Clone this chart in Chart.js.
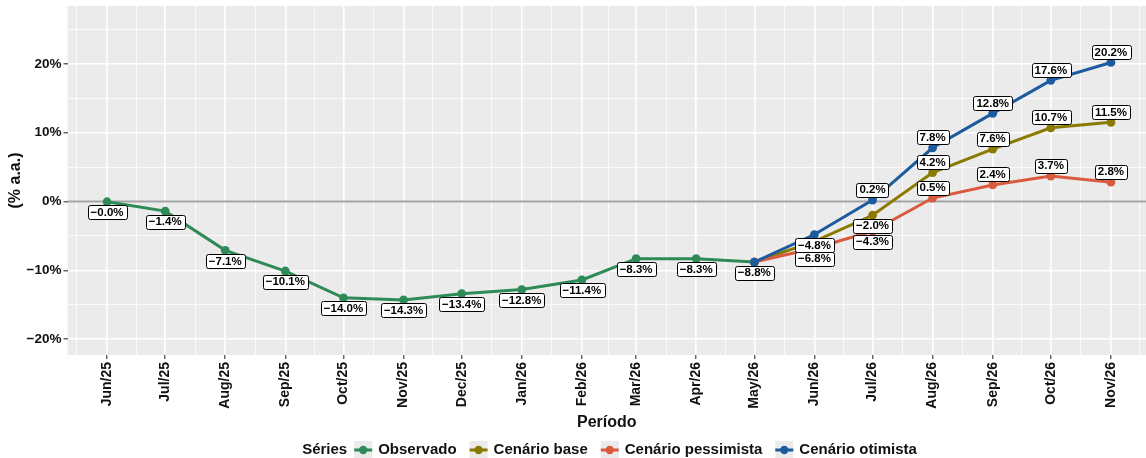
<!DOCTYPE html>
<html>
<head>
<meta charset="utf-8">
<script src="https://cdn.jsdelivr.net/npm/chart.js@4.4.1/dist/chart.umd.min.js"></script>
<style>
  html, body { margin: 0; padding: 0; background: #fff; }
  #wrap { width: 1146px; height: 458px; overflow: hidden; }
</style>
</head>
<body>
<div id="wrap"><canvas id="myChart" width="1146" height="458"></canvas></div>
<script>
// months (first day) and their tick labels
var months = ['2025-06-01', '2025-07-01', '2025-08-01', '2025-09-01', '2025-10-01', '2025-11-01',
              '2025-12-01', '2026-01-01', '2026-02-01', '2026-03-01', '2026-04-01', '2026-05-01',
              '2026-06-01', '2026-07-01', '2026-08-01', '2026-09-01', '2026-10-01', '2026-11-01'];
var tickLabels = ['Jun/25', 'Jul/25', 'Aug/25', 'Sep/25', 'Oct/25', 'Nov/25', 'Dec/25', 'Jan/26', 'Feb/26',
                  'Mar/26', 'Apr/26', 'May/26', 'Jun/26', 'Jul/26', 'Aug/26', 'Sep/26', 'Oct/26', 'Nov/26'];

// series (% a.a.)
var observado         = [-0.04, -1.4, -7.1, -10.1, -14.0, -14.3, -13.4, -12.8, -11.4, -8.3, -8.3, -8.8,
                         null, null, null, null, null, null];
var cenarioBase       = [null, null, null, null, null, null, null, null, null, null, null,
                         -8.8, -5.8, -2.0, 4.2, 7.6, 10.7, 11.5];
var cenarioPessimista = [null, null, null, null, null, null, null, null, null, null, null,
                         -8.8, -6.8, -4.3, 0.5, 2.4, 3.7, 2.8];
var cenarioOtimista   = [null, null, null, null, null, null, null, null, null, null, null,
                         -8.8, -4.8, 0.2, 7.8, 12.8, 17.6, 20.2];

// y ticks
var yTicks = [-20, -15, -10, -5, 0, 5, 10, 15, 20, 25];

// where each value label sits: 'a' above, 'b' below, null none
var B = 'b', A = 'a', N = null;
var posObservado  = [B, B, B, B, B, B, B, B, B, B, B, B, N, N, N, N, N, N];
var posBase       = [N, N, N, N, N, N, N, N, N, N, N, N, N, B, A, A, A, A];
var posPessimista = [N, N, N, N, N, N, N, N, N, N, N, N, B, B, A, A, A, A];
var posOtimista   = [N, N, N, N, N, N, N, N, N, N, N, N, B, A, A, A, A, A];

var FONT = '"Liberation Sans", Arial, sans-serif';

function dayOf(s) {
  var p = s.split('-');
  return (Date.UTC(+p[0], +p[1] - 1, +p[2]) - Date.UTC(2025, 5, 1)) / 86400000;
}
var xDays = months.map(dayOf);
// minor ticks halfway between months (one month before and after included)
var edges = [dayOf('2025-05-01')].concat(xDays, [dayOf('2026-12-01')]);
var xMinor = [];
for (var i = 0; i < edges.length - 1; i++) xMinor.push((edges[i] + edges[i + 1]) / 2);
var xTicks = xMinor.concat(xDays).sort(function (a, b) { return a - b; });

function pts(arr) {
  return arr.map(function (v, i) { return { x: xDays[i], y: v }; });
}
function fmt(v) {
  return (v < 0 ? '\u2212' : '') + Math.abs(v).toFixed(1) + '%';
}

function ds(label, data, color, pos, order) {
  return {
    label: label, data: pts(data), labelPos: pos, order: order,
    borderColor: color, backgroundColor: color, borderWidth: 3,
    pointRadius: 4.4, pointHoverRadius: 4.4, pointBorderWidth: 0,
    pointBackgroundColor: color, tension: 0, spanGaps: false
  };
}

var panelBg = {
  id: 'panelBg',
  beforeDraw: function (chart) {
    var a = chart.chartArea, c = chart.ctx;
    c.save();
    c.fillStyle = '#EBEBEB';
    c.fillRect(a.left, a.top, a.right - a.left, a.bottom - a.top);
    c.restore();
  },
  beforeDatasetsDraw: function (chart) {
    var a = chart.chartArea, c = chart.ctx, y0 = chart.scales.y.getPixelForValue(0);
    c.save();
    c.strokeStyle = '#A3A3A3';
    c.lineWidth = 1.8;
    c.beginPath(); c.moveTo(a.left, y0); c.lineTo(a.right, y0); c.stroke();
    c.restore();
  }
};

var pointLabels = {
  id: 'pointLabels',
  afterDatasetsDraw: function (chart) {
    var c = chart.ctx;
    c.save();
    c.font = 'bold 11.5px ' + FONT;
    c.textAlign = 'center';
    c.textBaseline = 'middle';
    chart.data.datasets.forEach(function (d, di) {
      var meta = chart.getDatasetMeta(di);
      d.data.forEach(function (p, i) {
        var pos = d.labelPos[i];
        if (p.y === null || !pos) return;
        var el = meta.data[i];
        var txt = fmt(p.y);
        var w = c.measureText(txt).width + 6, h = 14;
        var cx = el.x, cy = el.y + (pos === 'a' ? -10.5 : 10.5);
        c.beginPath();
        c.roundRect(Math.round(cx - w / 2) + 0.5, Math.round(cy - h / 2) + 0.5, Math.round(w), h, 2);
        c.fillStyle = '#fff';
        c.fill();
        c.strokeStyle = '#000';
        c.lineWidth = 1;
        c.stroke();
        c.fillStyle = '#000';
        c.fillText(txt, cx, cy + 0.5);
      });
    });
    c.restore();
  }
};

var bottomLegend = {
  id: 'bottomLegend',
  afterDraw: function (chart) {
    var c = chart.ctx;
    var items = chart.data.datasets.map(function (d) { return { label: d.label, color: d.borderColor }; });
    c.save();
    c.font = 'bold 15px ' + FONT;
    c.textBaseline = 'middle';
    c.textAlign = 'left';
    var key = 18, gapKey = 6, gapItem = 13, gapTitle = 7, title = 'Séries';
    var total = c.measureText(title).width + gapTitle;
    items.forEach(function (it, k) {
      total += key + gapKey + c.measureText(it.label).width + (k < items.length - 1 ? gapItem : 0);
    });
    var x = 609.5 - total / 2, y = 450;
    c.fillStyle = '#111';
    c.fillText(title, x, y);
    x += c.measureText(title).width + gapTitle;
    items.forEach(function (it) {
      c.fillStyle = '#EBEBEB';
      c.fillRect(x, y - key / 2, key, key);
      c.strokeStyle = it.color;
      c.lineWidth = 3;
      c.beginPath(); c.moveTo(x, y); c.lineTo(x + key, y); c.stroke();
      c.fillStyle = it.color;
      c.beginPath(); c.arc(x + key / 2, y, 4.2, 0, Math.PI * 2); c.fill();
      x += key + gapKey;
      c.fillStyle = '#111';
      c.fillText(it.label, x, y);
      x += c.measureText(it.label).width + gapItem;
    });
    c.restore();
  }
};

function isMajorX(v) { return xDays.indexOf(v) >= 0; }
function isMajorY(v) { return v % 10 === 0; }

var ctx = document.getElementById('myChart').getContext('2d');
var myChart = new Chart(ctx, {
  type: 'line',
  data: {
    datasets: [
      ds('Observado', observado, '#2E8B57', posObservado, 3),
      ds('Cenário base', cenarioBase, '#8B7A00', posBase, 2),
      ds('Cenário pessimista', cenarioPessimista, '#DA5A3E', posPessimista, 1),
      ds('Cenário otimista', cenarioOtimista, '#1B5B9E', posOtimista, 0)
    ]
  },
  options: {
    responsive: false,
    devicePixelRatio: 1,
    animation: false,
    layout: { autoPadding: false, padding: { top: 6, right: 0, bottom: 0, left: 0 } },
    plugins: { legend: { display: false }, tooltip: { enabled: false } },
    scales: {
      x: {
        type: 'linear', min: -20.4, max: 536.1,
        afterBuildTicks: function (s) { s.ticks = xTicks.map(function (v) { return { value: v }; }); },
        afterFit: function (s) { s.height = 103; s.paddingLeft = 0; s.paddingRight = 0; },
        border: { display: false },
        grid: {
          color: '#FFFFFF',
          lineWidth: function (c) { return c.tick && isMajorX(c.tick.value) ? 1.6 : 0.8; },
          tickColor: function (c) { return c.tick && isMajorX(c.tick.value) ? '#333' : 'rgba(0,0,0,0)'; },
          tickLength: 4, tickWidth: 1.1
        },
        ticks: {
          autoSkip: false, minRotation: 90, maxRotation: 90, padding: 3, color: '#111',
          font: { family: FONT, weight: 'bold', size: 14 },
          callback: function (v) { var i = xDays.indexOf(v); return i >= 0 ? tickLabels[i] : ''; }
        },
        title: {
          display: true, text: 'Período', color: '#111',
          font: { family: FONT, weight: 'bold', size: 16 },
          padding: { top: 0, bottom: 26 }
        }
      },
      y: {
        type: 'linear', min: -22.3, max: 28.4,
        afterBuildTicks: function (s) { s.ticks = yTicks.map(function (v) { return { value: v }; }); },
        afterFit: function (s) { s.width = 67.5; s.paddingTop = 0; s.paddingBottom = 0; },
        border: { display: false },
        grid: {
          color: '#FFFFFF',
          lineWidth: function (c) { return c.tick && isMajorY(c.tick.value) ? 1.6 : 0.8; },
          tickColor: function (c) { return c.tick && isMajorY(c.tick.value) ? '#333' : 'rgba(0,0,0,0)'; },
          tickLength: 4, tickWidth: 1.1
        },
        ticks: {
          padding: 2, color: '#111',
          font: { family: FONT, weight: 'bold', size: 13.5 },
          callback: function (v) { return isMajorY(v) ? (v < 0 ? '\u2212' : '') + Math.abs(v) + '%' : ''; }
        },
        title: {
          display: true, text: '(% a.a.)', color: '#111',
          font: { family: FONT, weight: 'bold', size: 16 },
          padding: { top: 6, bottom: 0 }
        }
      }
    }
  },
  plugins: [panelBg, pointLabels, bottomLegend]
});
</script>
</body>
</html>
